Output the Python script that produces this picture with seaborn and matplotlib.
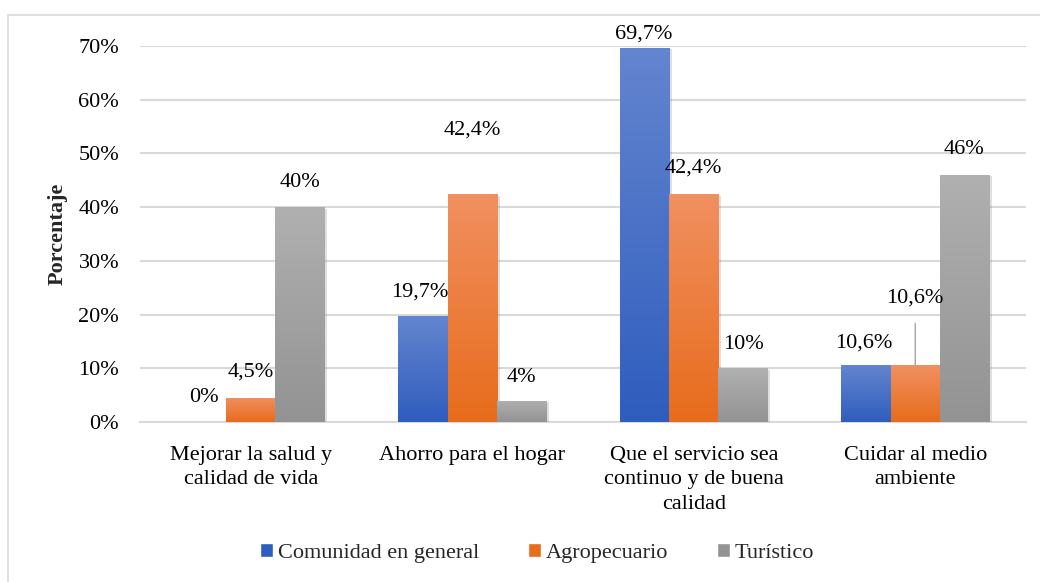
"""Grouped bar chart: beneficios percibidos por sector."""

import numpy as np
import pandas as pd
import matplotlib
matplotlib.use("Agg")
import matplotlib.pyplot as plt
import seaborn as sns
from matplotlib.colors import to_rgb
from matplotlib.patches import Rectangle
from matplotlib import patheffects as pe

categories = [
    "Mejorar la salud y\ncalidad de vida",
    "Ahorro para el hogar",
    "Que el servicio sea\ncontinuo y de buena\ncalidad",
    "Cuidar al medio\nambiente",
]
series = ["Comunidad en general", "Agropecuario", "Turístico"]
comunidad = [0, 19.7, 69.7, 10.6]
agropecuario = [4.5, 42.4, 42.4, 10.6]
turistico = [40, 4, 10, 46]
y_ticks = [0, 10, 20, 30, 40, 50, 60, 70]

# gradient (top, bottom) per series
grad_colors = [
    ("#6485CF", "#2F5DBE"),
    ("#F19060", "#E76C1C"),
    ("#B0B0B0", "#939393"),
]
# label offsets in pixels from bar top (dx, dy)
label_offsets = [
    [(2, 25), (-3, 24), (-1, 14), (-2, 22)],
    [(0, 26), (0, 64), (0, 26), (0, 67)],
    [(0, 25), (0, 23), (0, 24), (0, 25)],
]
FS = 16

df = pd.DataFrame({
    "categoria": categories * 3,
    "serie": np.repeat(series, len(categories)),
    "valor": comunidad + agropecuario + turistico,
})

sns.set_style("white")
plt.rcParams["font.family"] = ["Liberation Serif", "DejaVu Serif"]

fig = plt.figure(figsize=(10.4, 5.82), dpi=100)
ax = fig.add_axes([140 / 1040, 1 - 422 / 582, 886 / 1040, 376 / 582])

palette = {s: c[0] for s, c in zip(series, grad_colors)}
sns.barplot(data=df, x="categoria", y="valor", hue="serie", order=categories,
            hue_order=series, palette=palette, width=0.667, gap=0,
            saturation=1, ax=ax, legend=True, zorder=3)

ax.set_ylim(0, 70)
ax.set_xlim(-0.5, len(categories) - 0.5)

for i, cont in enumerate(ax.containers):
    top, bottom = grad_colors[i]
    grad = np.linspace(to_rgb(bottom), to_rgb(top), 256)[:, None, :]
    for j, bar in enumerate(cont):
        bar.set_edgecolor("none")
        bar.set_path_effects([
            pe.SimplePatchShadow(offset=(2, -1), shadow_rgbFace="#808080", alpha=0.25),
            pe.Normal(),
        ])
        x0, w, h = bar.get_x(), bar.get_width(), bar.get_height()
        if h > 0:
            im = ax.imshow(grad, extent=(x0, x0 + w, 0, h), origin="lower",
                           aspect="auto", zorder=4)
            im.set_clip_path(bar)
        val = bar.get_height()
        txt = f"{val:g}".replace(".", ",") + "%"
        dx, dy = label_offsets[i][j]
        arrow = None
        if i == 1 and j == 3:
            arrow = dict(arrowstyle="-", color="#A6A6A6", lw=1, shrinkA=9, shrinkB=0)
        ax.annotate(txt, xy=(x0 + w / 2, val), xytext=(dx, dy),
                    textcoords="offset pixels", ha="center", va="center",
                    fontsize=FS, color="black", arrowprops=arrow, zorder=6)

ax.set_xlim(-0.5, len(categories) - 0.5)
ax.set_ylim(0, 70)
ax.set_yticks(y_ticks)
ax.set_yticklabels([f"{t}%" for t in y_ticks])
ax.yaxis.grid(True, color="#D9D9D9", lw=1.5, zorder=0)
ax.set_axisbelow(True)
for s in ["top", "right", "left"]:
    ax.spines[s].set_visible(False)
ax.spines["bottom"].set_color("#D9D9D9")
ax.spines["bottom"].set_linewidth(1.5)
ax.tick_params(axis="both", length=0, labelsize=FS, colors="black")
ax.tick_params(axis="x", pad=17)
ax.tick_params(axis="y", pad=15)
for lbl in ax.get_xticklabels():
    lbl.set_linespacing(1.4)
ax.set_xlabel("")
ax.set_ylabel("Porcentaje", fontsize=FS, fontweight="bold", labelpad=8)

ax.get_legend().remove()
handles = [Rectangle((0, 0), 1, 1, facecolor=grad_colors[k][1]) for k in range(3)]
fig.legend(handles, series, loc="center", bbox_to_anchor=(537 / 1040, 1 - 553 / 582),
           ncol=3, frameon=False, fontsize=FS, handlelength=0.6, handleheight=0.6,
           handletextpad=0.2, columnspacing=2.2)

fig.patches.append(Rectangle((8 / 1040, -0.1), 1.2, 1.1 - 15 / 582,
                             transform=fig.transFigure, fill=False,
                             edgecolor="#D9D9D9", lw=1.2))

fig.savefig("out.png", dpi=100)
